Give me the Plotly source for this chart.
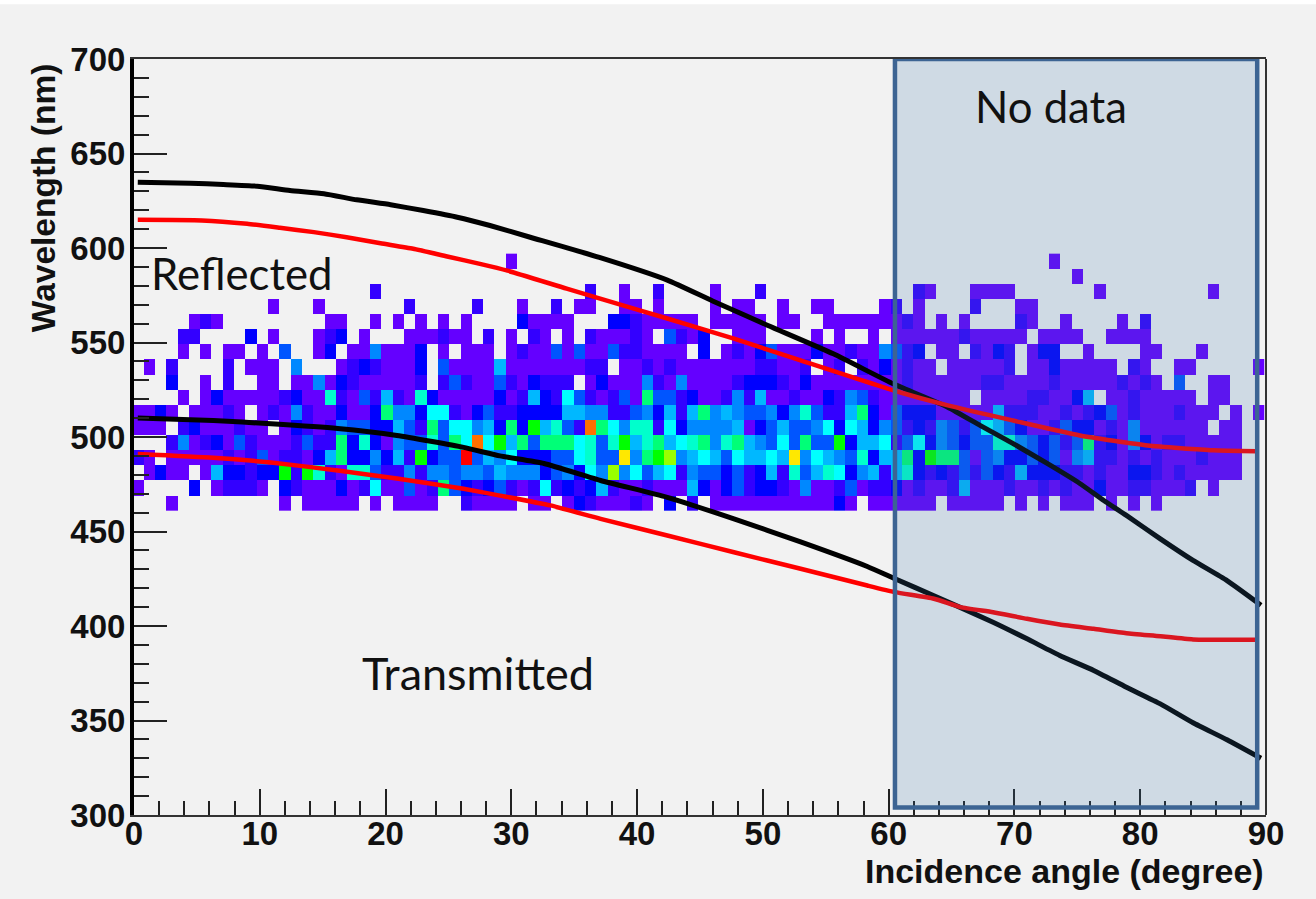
import plotly.graph_objects as go

# Histogram bin contents (colour level per 0.9 degree column; 0 = empty bin)
row_460 = [0,0,0,1,0,0,0,0,0,0, 0,0,0,1,0,1,1,1,1,1, 0,1,0,1,1,1,1,0,0,2, 1,1,1,1,0,1,1,0,1,3, 2,1,1,1,2,1,0,3,0,2, 0,1,1,1,1,1,1,1,1,1, 1,1,3,1,0,1,1,1,1,1, 1,0,1,1,1,1,1,0,1,0, 1,0,1,1,1,0,1,0,1,0, 1,0,0,0,0,0,0,0,0,0]
row_468 = [1,0,0,0,0,3,0,1,2,2, 2,1,0,3,2,1,1,1,3,1, 2,7,1,1,4,1,2,9,4,3, 2,3,4,2,1,2,7,2,3,2, 3,6,2,1,1,2,1,1,1,6, 3,1,3,4,2,3,3,2,1,5, 1,1,2,4,1,2,2,3,1,2, 1,1,2,6,1,1,1,2,1,1, 2,1,2,1,1,3,1,1,2,2, 1,1,1,2,0,1,0,0,0,0]
row_476 = [0,1,3,1,1,0,1,6,3,3, 2,3,3,10,2,10,8,2,1,8, 8,4,2,2,5,2,5,5,4,5, 5,4,6,5,5,5,3,4,5,3, 7,5,11,5,7,4,6,7,2,5, 4,4,3,4,2,3,6,2,8,4, 6,8,7,3,5,6,2,6,8,3, 2,3,2,4,2,4,3,2,6,3, 3,3,2,2,1,2,1,1,3,3, 2,1,2,1,1,1,1,1,0,0]
row_484 = [2,1,0,1,1,1,1,1,2,1, 2,4,1,2,2,1,3,6,9,3, 3,5,3,6,2,10,3,4,4,14, 4,6,5,7,3,3,3,4,4,7, 8,4,4,12,5,9,10,11,5,6, 7,6,4,7,6,6,7,6,12,5, 7,6,5,4,8,3,6,6,9,3, 10,9,9,4,1,4,5,3,3,4, 3,4,1,5,6,2,2,1,2,1, 2,1,1,1,2,1,1,1,0,0]
row_492 = [0,0,0,2,5,1,2,3,1,4, 2,1,1,1,2,4,2,2,9,3, 8,3,1,5,4,4,8,4,9,7, 13,7,10,6,9,4,9,9,9,7, 8,4,8,10,6,8,9,6,7,8, 9,5,8,9,6,5,4,7,4,9, 4,4,10,3,6,6,7,2,4,7, 3,5,4,3,4,4,8,8,5,4, 3,4,2,4,9,2,3,1,5,3, 1,2,2,1,1,1,1,1,0,0]
row_500 = [1,1,1,0,2,3,1,1,1,2, 1,1,0,1,3,2,1,2,5,4, 4,3,3,6,4,2,9,4,7,7, 5,6,3,9,3,10,6,8,4,2, 13,9,7,5,8,8,2,7,3,5, 5,5,5,6,1,3,4,6,4,4, 5,7,3,7,6,3,5,4,2,3, 2,5,4,2,4,7,6,4,3,1, 1,2,4,3,3,1,2,1,5,1, 1,1,1,1,1,0,1,1,0,0]
row_508 = [1,1,3,1,0,1,1,1,2,1, 0,1,2,1,5,2,1,1,3,1, 1,3,9,5,5,3,7,7,2,1, 3,4,2,2,3,3,3,3,6,6, 5,5,2,2,4,5,3,6,2,6, 9,5,6,5,4,4,5,3,5,8, 4,2,2,6,9,3,1,4,3,3, 3,1,1,1,1,1,6,2,2,2, 1,1,2,1,2,3,4,1,2,1, 1,1,2,1,1,1,0,1,0,1]
row_516 = [0,0,0,0,1,0,1,3,1,1, 1,1,1,2,3,1,1,8,2,1, 4,2,6,2,1,8,3,1,1,1, 1,1,3,1,2,6,3,2,7,4, 2,1,2,4,1,9,4,4,2,3, 1,1,2,5,2,6,1,1,2,1, 1,3,2,5,4,2,1,1,1,1, 1,1,1,1,0,1,1,1,1,2, 2,1,1,3,6,0,1,1,2,1, 1,1,1,1,0,1,1,0,0,0]
row_524 = [0,0,0,3,0,0,1,0,2,0, 0,1,1,0,1,1,5,1,3,2, 1,1,1,1,1,2,0,2,4,2, 1,1,4,2,1,3,2,2,2,0, 1,3,1,1,1,5,2,1,5,1, 1,1,1,2,3,3,3,2,1,3, 1,1,1,1,1,1,1,1,2,1, 1,1,1,1,1,2,2,1,1,1, 1,2,1,1,1,1,1,2,1,2, 1,0,4,0,0,1,1,0,0,0]
row_532 = [0,1,0,2,0,0,0,0,2,0, 1,1,1,0,5,0,0,0,1,2, 3,2,1,1,1,3,0,4,1,1, 1,1,6,1,1,1,1,1,1,1, 2,2,0,1,1,2,1,2,1,1, 1,1,1,1,1,2,2,1,1,2, 0,1,2,0,2,1,3,1,2,1, 1,0,1,1,1,1,1,2,0,1, 1,3,1,1,1,1,1,0,2,1, 0,0,1,1,0,0,0,0,0,1]
row_540 = [0,0,0,0,1,0,1,0,1,1, 0,1,0,4,0,0,1,3,0,1, 1,5,1,1,1,3,0,1,0,1, 1,1,0,1,2,1,1,4,1,4, 1,1,4,2,2,1,1,1,1,0, 3,0,1,2,1,3,4,1,1,1, 3,1,1,2,1,1,5,4,2,3, 0,1,1,0,2,1,3,2,0,1, 3,3,0,0,1,0,0,0,0,1, 1,0,0,0,1,0,0,0,0,0]
row_548 = [0,0,0,0,2,2,0,0,0,0, 3,0,1,0,0,0,1,2,3,0, 1,0,0,0,1,1,1,2,1,1, 0,2,0,1,0,2,1,0,1,0, 2,1,1,1,2,1,0,4,2,1, 3,0,0,1,1,1,0,0,0,0, 1,0,1,0,0,1,0,1,1,1, 1,1,1,2,1,1,1,1,1,0, 1,1,1,1,0,0,1,1,1,1, 0,0,0,0,0,0,0,0,0,0]
row_556 = [0,0,0,0,0,1,2,1,0,0, 0,0,0,0,0,0,0,1,1,0, 0,1,0,1,0,1,0,1,0,1, 0,0,0,0,3,1,1,1,1,0, 0,0,3,3,2,1,1,1,1,1, 0,1,1,1,1,1,0,1,1,0, 0,1,1,1,1,1,1,1,2,1, 0,1,0,1,0,0,0,0,2,1, 0,0,1,0,0,0,0,1,0,2, 0,0,0,0,0,0,0,0,0,0]
row_564 = [0,0,0,0,0,0,0,0,0,0, 0,0,1,0,0,0,1,0,0,0, 0,0,0,0,2,0,0,0,0,0, 2,0,0,0,1,0,0,2,0,1, 1,0,0,1,1,0,1,0,0,0, 0,1,0,1,1,0,0,1,0,0, 1,1,0,0,0,0,1,2,0,1, 0,0,0,0,2,0,0,0,1,1, 0,0,0,0,0,0,0,0,0,0, 0,0,0,0,0,0,0,0,0,0]
row_572 = [0,0,0,0,0,0,0,0,0,0, 0,0,0,0,0,0,0,0,0,0, 0,2,0,0,0,0,0,0,0,0, 0,0,0,0,0,0,0,0,0,0, 2,0,0,1,0,0,2,0,0,0, 0,1,0,0,0,2,0,0,0,0, 0,0,0,0,0,0,0,0,0,2, 1,0,0,0,1,1,1,1,0,0, 0,0,0,0,0,1,0,0,0,0, 0,0,0,0,0,1,0,0,0,0]
row_580 = [0,0,0,0,0,0,0,0,0,0, 0,0,0,0,0,0,0,0,0,0, 0,0,0,0,0,0,0,0,0,0, 0,0,0,0,0,0,0,0,0,0, 0,0,0,0,0,0,0,0,0,0, 0,0,0,0,0,0,0,0,0,0, 0,0,0,0,0,0,0,0,0,0, 0,0,0,0,0,0,0,0,0,0, 0,0,0,1,0,0,0,0,0,0, 0,0,0,0,0,0,0,0,0,0]
row_588 = [0,0,0,0,0,0,0,0,0,0, 0,0,0,0,0,0,0,0,0,0, 0,0,0,0,0,0,0,0,0,0, 0,0,0,1,0,0,0,0,0,0, 0,0,0,0,0,0,0,0,0,0, 0,0,0,0,0,0,0,0,0,0, 0,0,0,0,0,0,0,0,0,0, 0,0,0,0,0,0,0,0,0,0, 0,1,0,0,0,0,0,0,0,0, 0,0,0,0,0,0,0,0,0,0]
hist_rows = [row_460, row_468, row_476, row_484, row_492, row_500, row_508, row_516, row_524,
             row_532, row_540, row_548, row_556, row_564, row_572, row_580, row_588]

level_colors = ["#6400ff", "#3300ff", "#0000ff", "#0055ff", "#0088ff", "#00b8ff", "#00ffff",
                "#00ffcc", "#00ff77", "#00ff00", "#99ff00", "#ffe800", "#ff7000", "#ff0000"]

# Curves: angle (degree) vs wavelength (nm)
black_upper_x = [0.3, 4.5, 7.1, 9.8, 12.4, 15.1, 17.7, 20.4, 23, 25.7, 28.3, 31.5, 37, 42.4, 46, 50.4, 55.6, 60.4, 64.7, 67.3, 69.9, 72.6, 75.2, 77.1, 78.9, 81.6, 84.2, 86.9, 89.6]
black_upper_y = [634.8, 634.3, 633.6, 632.7, 630.4, 628.7, 625.5, 622.9, 619.8, 616.3, 611.9, 605.7, 595, 583, 572, 559, 544, 528, 515.8, 506, 496.5, 486, 475.4, 466.4, 458.5, 446.1, 434.7, 424, 411]
black_lower_x = [0.3, 6.3, 10.9, 16.2, 20.9, 26.2, 29.1, 32.6, 37.1, 42.4, 47.7, 53, 58.3, 60.5, 63.6, 68.3, 71, 73.6, 76.3, 78.9, 81.6, 84.2, 86.9, 89.6]
black_lower_y = [510, 508.7, 507, 504.5, 500.8, 494.5, 490, 486, 477, 468.1, 456.7, 444.5, 431.5, 425, 416, 402, 393.2, 384.4, 376.5, 367.6, 358.8, 348.8, 339.8, 330]
red_upper_x = [0.3, 5.4, 9, 11.6, 14.3, 16.9, 19.6, 22.2, 24.9, 27.5, 29.7, 34.4, 38.4, 42.4, 47.7, 53, 60.4, 64.7, 69.9, 75.2, 80.6, 85.8, 89.2]
red_upper_y = [614.9, 614.6, 612.8, 610.7, 608.4, 605.7, 602.5, 599.6, 595.5, 591.6, 588, 578.5, 570.6, 562.7, 552, 540.5, 524.6, 516.7, 508.7, 500.8, 495.5, 493, 492.5]
red_lower_x = [0.3, 6.3, 10.9, 16.2, 20.9, 26.2, 29.1, 33.1, 37.1, 42.4, 47.7, 53, 58.3, 60.5, 63.6, 65.7, 68.3, 71, 73.6, 76.3, 78.9, 81.6, 84.2, 89.2]
red_lower_y = [491, 489, 486.5, 482.3, 478, 472.6, 469, 463.8, 456.7, 447.9, 439, 430.3, 421.4, 417.9, 414.4, 410, 407.3, 403.8, 400.8, 398.5, 396.2, 394.6, 392.9, 392.7]

x_ticks = list(range(0, 100, 10))
y_ticks = list(range(300, 750, 50))

stops = []
n = len(level_colors)
for i, c in enumerate(level_colors):
    stops += [[i / n, c], [(i + 1) / n, c]]
z = [[v if v else None for v in r] for r in hist_rows]

fig = go.Figure()
fig.add_trace(go.Heatmap(z=z, x0=0.31, dx=0.9, y0=465, dy=8, zmin=0.5, zmax=14.5,
                         colorscale=stops, showscale=False, hoverongaps=False))
for xs, ys, col, w in [(black_upper_x, black_upper_y, "#000000", 5), (black_lower_x, black_lower_y, "#000000", 5),
                       (red_upper_x, red_upper_y, "#ff0000", 4.5), (red_lower_x, red_lower_y, "#ff0000", 4.5)]:
    fig.add_trace(go.Scatter(x=xs, y=ys, mode="lines", line=dict(color=col, width=w, shape="spline", smoothing=0.5), showlegend=False))

tick_font = dict(family="Liberation Sans", size=33, color="#111111", weight="bold")
fig.update_layout(
    width=1316, height=899, margin=dict(l=134, r=50, t=59, b=84),
    paper_bgcolor="#ffffff", plot_bgcolor="#f2f2f2", showlegend=False,
    xaxis=dict(range=[0, 90], tickvals=x_ticks, ticks="inside", ticklen=26, tickwidth=1.5, tickcolor="#222222",
               minor=dict(dtick=2, ticks="inside", ticklen=14, tickwidth=1.5, tickcolor="#222222"),
               showgrid=False, zeroline=False, showline=True, linecolor="#333333", linewidth=2, mirror=True,
               tickfont=tick_font, ticklabelstandoff=-12),
    yaxis=dict(range=[300, 700], tickvals=y_ticks, ticks="inside", ticklen=33, tickwidth=1.5, tickcolor="#222222",
               minor=dict(dtick=10, ticks="inside", ticklen=15, tickwidth=1.5, tickcolor="#222222"),
               showgrid=False, zeroline=False, showline=True, linecolor="#000000", linewidth=4,
               tickfont=tick_font, ticklabelstandoff=-2),
    shapes=[
        dict(type="rect", xref="paper", yref="paper", x0=-0.2, x1=1.1, y0=-0.2, y1=1.0723, layer="below",
             fillcolor="#f2f2f2", line_width=0),
        dict(type="line", xref="paper", yref="paper", x0=1, x1=1, y0=0, y1=1, line=dict(color="#333333", width=2)),
        dict(type="rect", x0=60.5, x1=89.3, y0=304, y1=700, layer="above",
             fillcolor="rgba(60,115,170,0.19)", line=dict(color="#3d6493", width=4.5)),
    ],
    annotations=[
        dict(text="Incidence angle (degree)", xref="paper", yref="paper", x=1.0, y=-0.0735, xanchor="right", yanchor="middle",
             showarrow=False, font=dict(family="Liberation Sans", size=34, color="#111111", weight="bold")),
        dict(text="Wavelength (nm)", xref="paper", yref="paper", x=-0.0805, y=0.817, textangle=-90, xanchor="center", yanchor="middle",
             showarrow=False, font=dict(family="Liberation Sans", size=33.5, color="#111111", weight="bold")),
        dict(text="Reflected", x=8.56, y=587, showarrow=False, xanchor="center", yanchor="middle",
             font=dict(family="Lato", size=43.7, color="#111111")),
        dict(text="Transmitted", x=27.38, y=375, showarrow=False, xanchor="center", yanchor="middle",
             font=dict(family="Lato", size=45, color="#111111")),
        dict(text="No data", x=72.88, y=675, showarrow=False, xanchor="center", yanchor="middle",
             font=dict(family="Lato", size=43.7, color="#111111")),
    ],
)
fig.write_html("out.html", config={"displayModeBar": False}, post_script="document.body.style.margin='0';")
